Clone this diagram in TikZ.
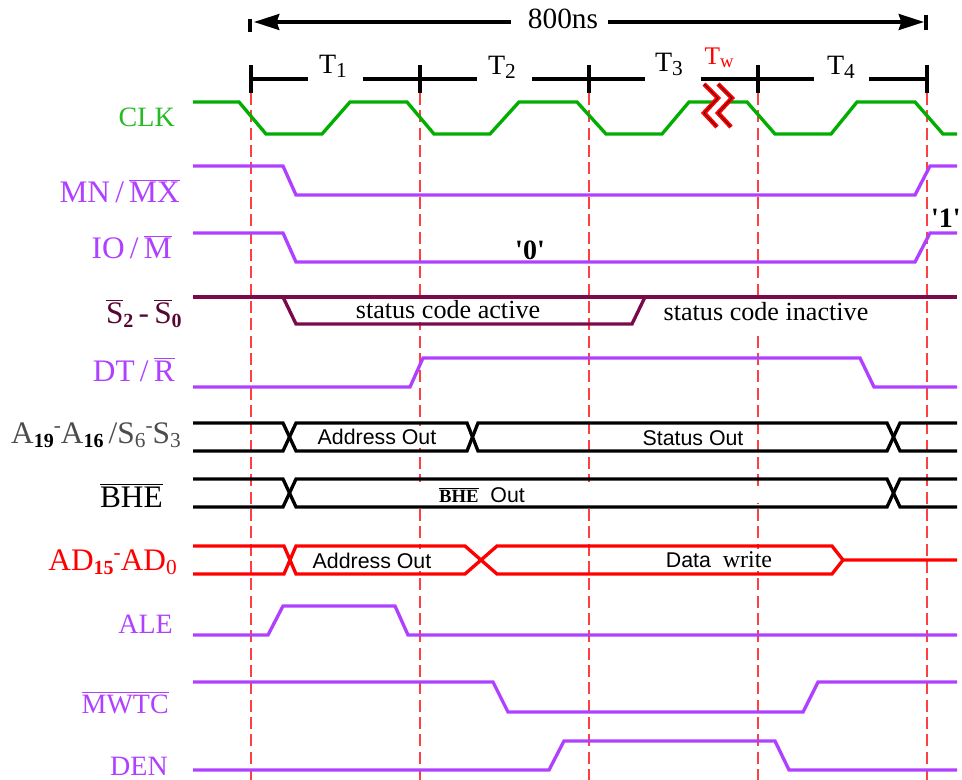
\documentclass[tikz,border=0pt]{standalone}
\usepackage{fontspec}
\setmainfont{Liberation Serif}
\setsansfont{Liberation Sans}
\usetikzlibrary{arrows.meta}
\definecolor{clkgreen}{HTML}{00AE00}
\definecolor{sigpurple}{HTML}{B040FF}
\definecolor{stmaroon}{HTML}{7A0A4A}
\newcommand{\lblfont}{\fontsize{21}{24}\selectfont}
\newcommand{\bigfont}{\fontsize{23.5}{26}\selectfont}
\newcommand{\inrfont}{\fontsize{16}{18}\selectfont}
\newcommand{\ovl}[1]{$\overline{\mbox{#1}}$}
\newcommand{\bsub}[1]{\raisebox{-0.32ex}{\fontsize{15}{15}\selectfont\bfseries #1}}
\newcommand{\lsub}[1]{\raisebox{-0.32ex}{\fontsize{16}{16}\selectfont #1}}
\newcommand{\rdash}{\raisebox{0.75ex}{\fontsize{16}{16}\selectfont -}}

\begin{document}
\begin{tikzpicture}[
    x=0.75pt, y=-0.75pt,
    lab/.style={anchor=base east, inner sep=0pt, font=\lblfont},
    blab/.style={anchor=base east, inner sep=0pt, font=\bigfont},
    tlab/.style={inner sep=0pt, font=\lblfont},
    stxt/.style={inner sep=0pt, font=\fontsize{19.6}{22}\selectfont},
    btxt/.style={inner sep=0pt, font=\inrfont\sffamily},
    wclk/.style={line width=2.5pt, clkgreen},
    wsig/.style={line width=2.5pt, sigpurple},
    wbus/.style={line width=2.5pt, black},
    wred/.style={line width=2.5pt, red},
    wsts/.style={line width=2.5pt, stmaroon},
    guide/.style={red!75!white, line width=0.8pt, dash pattern=on 9pt off 4pt},
    dim/.style={line width=2.3pt, black},
    dimarr/.style={dim, -{Stealth[length=19pt, width=12pt, inset=2pt]}},
]
    \useasboundingbox (0,0) rectangle (962,780);
    %% vertical guides at the state edges
    \foreach \x in {251,420,589,758,927}
        \draw[guide] (\x,93) -- (\x,780);
    %% the guides stop behind the texts
    \foreach \x/\a/\b in {420/299/322,420/426/448,420/482/505,420/549/571,
                          589/482/505,758/299/332,758/487/503,758/549/571}
        \fill[white] (\x-3,\a) rectangle (\x+3,\b);

    %% total time
    \node[tlab, font=\fontsize{22}{24}\selectfont] (ns) at (563,19) {800ns};
    \coordinate (nsl) at (511,22);
    \coordinate (nsr) at (608,22);
    \coordinate (lft) at (254,22);
    \coordinate (rgt) at (924,22);
    \draw[dimarr] (nsl) -- (lft);
    \draw[dimarr] (nsr) -- (rgt);
    \draw[dim] (250,19) -- (250,32);
    \draw[dim] (926,15) -- (926,30);

    %% T states
    \foreach \x in {251,420,589,758,927}
        \draw[dim] (\x,65) -- (\x,93);
    \foreach \a/\b in {251/308,363/477,532/645,701/814,869/927}
        \draw[dim] (\a,79) -- (\b,79);
    \node[tlab] (ta) at (333,66) {T\lsub{1}};
    \node[tlab] (tb) at (502,67) {T\lsub{2}};
    \node[tlab] (tc) at (669,64) {T\lsub{3}};
    \node[tlab, text=red, font=\fontsize{19}{22}\selectfont] (tw) at (719,58) {T\raisebox{-0.3ex}{\fontsize{14}{14}\selectfont w}};
    \node[tlab] (td) at (841,67) {T\lsub{4}};

    %% waveforms
    \draw[wclk] (193,102) -- (239,102) -- (266,134) -- (322,134) -- (350,102) -- (407,102)
        -- (434,134) -- (490,134) -- (519,102) -- (577,102) -- (606,134) -- (662,134)
        -- (689,102) -- (747,102) -- (775,134) -- (831,134) -- (857,102) -- (915,102)
        -- (943,134) -- (957,134);
    \draw[wsig] (193,166) -- (283,166) -- (296,195) -- (915,195) -- (930,166) -- (957,166);
    \draw[wsig] (193,233) -- (283,233) -- (296,262) -- (915,262) -- (930,233) -- (957,233);
    \draw[wsts] (193,297) -- (957,297);
    \draw[wsts] (283,297) -- (296,324) -- (632,324) -- (645,297);
    \draw[wsig] (193,387) -- (410,387) -- (423,358) -- (860,358) -- (874,387) -- (957,387);
    %% address / status bus
    \draw[wbus] (193,423) -- (283,423) -- (296,451) -- (467,451) -- (478,423) -- (887,423)
        -- (900,451) -- (957,451);
    \draw[wbus] (193,451) -- (283,451) -- (296,423) -- (467,423) -- (478,451) -- (887,451)
        -- (900,423) -- (957,423);
    %% BHE
    \draw[wbus] (193,479) -- (283,479) -- (296,507) -- (887,507) -- (900,479) -- (957,479);
    \draw[wbus] (193,507) -- (283,507) -- (296,479) -- (887,479) -- (900,507) -- (957,507);
    %% data bus
    \draw[wred] (193,546) -- (284,546) -- (296,574) -- (465,574) -- (497,546) -- (832,546)
        -- (843,560) -- (957,560);
    \draw[wred] (193,574) -- (284,574) -- (296,546) -- (465,546) -- (497,574) -- (832,574)
        -- (843,560);
    \draw[wsig] (193,635) -- (268,635) -- (283,606) -- (395,606) -- (408,635) -- (957,635);
    \draw[wsig] (193,682) -- (493,682) -- (508,712) -- (803,712) -- (818,682) -- (957,682);
    \draw[wsig] (193,770) -- (549,770) -- (564,741) -- (775,741) -- (789,770) -- (957,770);

    %% wait state break
    \fill[white] (704,84) -- (717,84) -- (732,98) -- (717,113) -- (732,127) -- (717,127)
        -- (704,113) -- (718,98) -- cycle;
    \foreach \d in {0,14} {
        \draw[red, line width=3.4pt] (704+\d,84) -- (718+\d,98) -- (704+\d,113) -- (717+\d,127);
        \draw[black, line width=0.4pt] (704+\d,84) -- (718+\d,98) -- (704+\d,113) -- (717+\d,127);
    }

    %% signal names
    \node[lab, text=clkgreen!85!white] (lclk) at (175,127) {CLK};
    \node[blab, text=sigpurple] (lmn) at (180,203) {MN\,/\,\ovl{MX}};
    \node[blab, text=sigpurple] (lio) at (172,259) {IO\,/\,\ovl{M}};
    \node[blab, text=stmaroon!70!black] (lst) at (182,323) {\ovl{S}\bsub{2}\,-\,\ovl{S}\bsub{0}};
    \node[blab, text=sigpurple] (ldt) at (175,381) {DT\,/\,\ovl{R}};
    \node[blab, text=black!70] (ladr) at (181,443) {A{\color{black}\bsub{19}}\rdash A{\color{black}\bsub{16}}\,/S\lsub{6}\rdash S\lsub{3}};
    \node[blab] (lbhe) at (163,507) {\ovl{BHE}};
    \node[blab, text=red] (lad) at (177,570) {AD\bsub{15}\rdash AD\lsub{0}};
    \node[lab, text=sigpurple] (lale) at (173,633) {ALE};
    \node[lab, text=sigpurple] (lmw) at (169,713) {\ovl{MWTC}};
    \node[lab, text=sigpurple] (lden) at (168,775) {DEN};

    %% texts on the waveforms
    \node[stxt] (sact) at (448,310) {status code active};
    \node[stxt] (sina) at (766,312) {status code inactive};
    \node[tlab, font=\lblfont\bfseries] (zro) at (530,250) {\textquotesingle 0\textquotesingle};
    \node[tlab, font=\lblfont\bfseries, anchor=east] (one) at (961,218) {\textquotesingle 1\textquotesingle};
    \node[btxt] (aoa) at (377,437) {Address Out};
    \node[btxt] (sto) at (693,438) {Status Out};
    \node[btxt] (bho) at (482,495) {{\rmfamily\bfseries\fontsize{14}{16}\selectfont\ovl{BHE}}\ \ Out};
    \node[btxt] (aob) at (372,561) {Address Out};
    \node[btxt] (dwr) at (719,560) {Data\ \ {\rmfamily\fontsize{18}{18}\selectfont write}};
\end{tikzpicture}
\end{document}
